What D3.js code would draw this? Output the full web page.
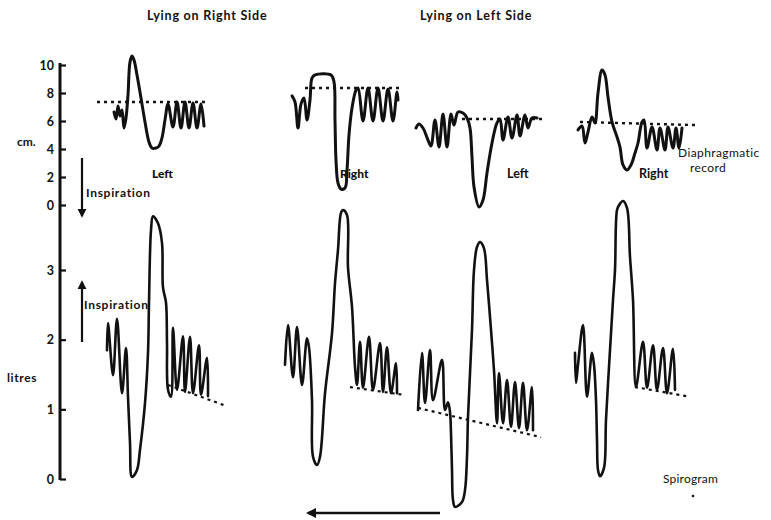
<!DOCTYPE html>
<html>
<head>
<meta charset="utf-8">
<script src="https://cdn.jsdelivr.net/npm/d3@7"></script>
<style>
  html, body { margin: 0; padding: 0; background: #fff; }
  svg { display: block; }
  text { font-family: Lato, "Open Sans", sans-serif; fill: #111; }
</style>
</head>
<body>
<svg id="chart" width="771" height="520"></svg>
<script>
// Time along the record (chart units) and recorded value.
// Diaphragm traces are in cm, spirogram traces in litres.

// Lying on right side — left diaphragm
const diaphragmRightSideLeft = [
  [54,6.64],[56,6.14],[58,7.07],[60,6.36],[62,6.79],[64,5.50],[66,6.21],[68,7.86],
  [70,10.21],[72,10.64],[74,10.36],[77,9.29],[81,7.64],[85,5.93],[89,4.50],[92,4.07],
  [96,4.07],[99,4.21],[102,4.79],[105,6.07],[108,7.21],[113,5.57],[117,7.36],[121,5.50],
  [125,7.36],[129,5.50],[133,7.29],[137,5.50],[141,7.21],[144,5.64]
];
const diaphragmRightSideLeftBase = [[37,7.36],[145,7.36]];

// Lying on right side — right diaphragm
const diaphragmRightSideRight = [
  [232,7.79],[235,7.36],[238,5.50],[241,7.21],[244,7.64],[247,6.07],[250,7.50],[252,9.07],
  [255,9.29],[271,9.29],[274,8.79],[275,6.07],[276,3.21],[278,1.57],[281,1.14],[285,1.21],
  [287,2.50],[289,5.00],[292,6.93],[296,8.21],[298,8.36],[303,6.00],[308,8.36],[313,6.00],
  [318,8.36],[323,6.00],[328,8.29],[333,6.00],[337,8.07],[338,7.50]
];
const diaphragmRightSideRightBase = [[245,8.36],[343,8.36]];

// Lying on left side — left diaphragm
const diaphragmLeftSideLeft = [
  [356,5.50],[359,5.79],[363,5.50],[368,4.64],[371,4.21],[375,6.07],[379,4.14],[383,6.50],
  [387,4.14],[391,6.50],[394,5.71],[398,6.64],[403,6.57],[407,6.21],[410,5.50],[412,3.43],
  [414,1.29],[419,-0.14],[423,0.36],[427,2.29],[432,4.43],[437,5.86],[440,6.14],[443,4.64],
  [448,6.29],[452,4.79],[457,6.43],[460,4.93],[465,6.43],[468,5.50],[472,6.21],[477,6.21]
];
const diaphragmLeftSideLeftBase = [[402,6.14],[485,6.14]];

// Lying on left side — right diaphragm
const diaphragmLeftSideRight = [
  [518,5.36],[522,5.64],[525,4.43],[528,5.21],[532,6.29],[535,5.86],[538,8.00],[542,9.64],
  [545,9.29],[548,7.71],[552,5.93],[557,4.86],[560,4.14],[563,2.86],[567,2.50],[571,2.86],
  [575,3.71],[578,4.43],[582,5.93],[584,6.07],[587,4.07],[592,5.57],[597,3.93],[600,5.50],
  [605,3.93],[608,5.57],[613,4.07],[616,5.50],[619,4.07],[622,5.50]
];
const diaphragmLeftSideRightBase = [[520,5.93],[635,5.71]];

// Spirograms (litres)
const spiroRightSideLeft = [
  [47,1.85],[48,2.24],[53,1.49],[57,2.30],[62,1.23],[66,1.88],[68,1.18],[70,0.52],
  [72,0.03],[77,0.13],[80,0.42],[85,1.09],[88,1.81],[89,2.53],[91,3.57],[93,3.77],
  [98,3.67],[102,3.39],[103,2.75],[106,2.53],[107,1.95],[108,1.28],[111,1.18],[113,2.17],
  [117,1.28],[123,2.05],[125,1.25],[130,2.04],[133,1.23],[139,1.92],[141,1.21],[147,1.74],
  [148,1.19]
];
const spiroRightSideLeftBase = [[108,1.35],[166,1.05]];

const spiroRightSideRight = [
  [225,1.64],[228,2.21],[233,1.46],[237,2.18],[242,1.35],[247,2.02],[249,1.89],[252,1.13],
  [253,0.32],[257,0.20],[260,0.32],[265,1.23],[272,2.09],[275,2.81],[278,3.29],[281,3.82],
  [283,3.86],[287,3.79],[288,3.04],[292,2.47],[295,1.61],[297,1.35],[300,1.97],[303,1.31],
  [309,2.04],[313,1.28],[320,1.95],[323,1.25],[327,1.89],[331,1.23],[336,1.66],[337,1.23]
];
const spiroRightSideRightBase = [[290,1.32],[343,1.21]];

const spiroLeftSideLeft = [
  [358,0.99],[362,1.81],[365,1.09],[370,1.85],[373,1.13],[382,1.71],[385,0.99],[388,1.10],
  [390,0.96],[391,0.66],[392,0.13],[393,-0.30],[395,-0.40],[402,-0.33],[405,-0.16],[407,0.32],
  [408,0.89],[412,2.14],[414,3.00],[417,3.33],[420,3.40],[424,3.31],[427,2.86],[431,2.14],
  [434,1.56],[437,0.80],[439,1.52],[443,0.80],[447,1.42],[451,0.75],[455,1.39],[459,0.73],
  [463,1.38],[467,0.70],[472,1.32],[473,0.70]
];
const spiroLeftSideLeftBase = [[358,1.02],[481,0.60]];

const spiroLeftSideRight = [
  [515,1.81],[516,1.38],[518,1.64],[523,2.21],[527,1.18],[532,1.81],[534,1.64],[536,1.13],
  [537,0.56],[538,0.13],[540,0.04],[544,0.16],[546,0.85],[550,1.85],[553,2.57],[555,3.00],
  [557,3.86],[559,3.93],[563,3.99],[567,3.89],[570,3.19],[573,2.57],[576,1.32],[583,1.97],
  [587,1.31],[593,1.92],[597,1.28],[603,1.88],[607,1.23],[613,1.87],[615,1.28]
];
const spiroLeftSideRightBase = [[575,1.32],[630,1.18]];

const cmTicks = [0, 2, 4, 6, 8, 10];
const litreTicks = [0, 1, 2, 3];

const svg = d3.select("#chart");

const x = d3.scaleLinear().domain([0, 700]).range([60, 760]);
const yCm = d3.scaleLinear().domain([0, 10]).range([205, 65]);
const yL = d3.scaleLinear().domain([0, 3]).range([479, 270]);

// arrowhead
svg.append("defs").append("marker")
  .attr("id", "head")
  .attr("viewBox", "0 0 10 10")
  .attr("refX", 8).attr("refY", 5)
  .attr("markerWidth", 4.2).attr("markerHeight", 4.2)
  .attr("markerUnits", "strokeWidth")
  .attr("orient", "auto")
  .append("path").attr("d", "M0,0 L10,5 L0,10 Z").attr("fill", "#111");

// vertical spine shared by both scales
svg.append("line")
  .attr("x1", x(0)).attr("x2", x(0))
  .attr("y1", yCm(10) - 2).attr("y2", yL(0) + 1)
  .attr("stroke", "#111").attr("stroke-width", 3);

function styleAxis(g) {
  g.select(".domain").remove();
  g.selectAll(".tick line").attr("stroke", "#111").attr("stroke-width", 2.2);
  g.selectAll(".tick text")
    .attr("font-family", "Lato, sans-serif")
    .attr("font-weight", 700).attr("font-size", 12.5).attr("fill", "#111");
}

svg.append("g").attr("transform", `translate(${x(0)},0)`)
  .call(d3.axisLeft(yCm).tickValues(cmTicks).tickFormat(d3.format("d"))
    .tickSizeInner(-6).tickSizeOuter(0).tickPadding(6))
  .call(styleAxis);
svg.append("g").attr("transform", `translate(${x(0)},0)`)
  .call(d3.axisLeft(yL).tickValues(litreTicks).tickFormat(d3.format("d"))
    .tickSizeInner(-6).tickSizeOuter(0).tickPadding(6))
  .call(styleAxis);

const lineCm = d3.line().x(d => x(d[0])).y(d => yCm(d[1])).curve(d3.curveCatmullRom.alpha(0.5));
const lineL = d3.line().x(d => x(d[0])).y(d => yL(d[1])).curve(d3.curveCatmullRom.alpha(0.5));
const straightCm = d3.line().x(d => x(d[0])).y(d => yCm(d[1]));
const straightL = d3.line().x(d => x(d[0])).y(d => yL(d[1]));

const diaphragms = [diaphragmRightSideLeft, diaphragmRightSideRight, diaphragmLeftSideLeft, diaphragmLeftSideRight];
const diaphragmBases = [diaphragmRightSideLeftBase, diaphragmRightSideRightBase, diaphragmLeftSideLeftBase, diaphragmLeftSideRightBase];
const spiros = [spiroRightSideLeft, spiroRightSideRight, spiroLeftSideLeft, spiroLeftSideRight];
const spiroBases = [spiroRightSideLeftBase, spiroRightSideRightBase, spiroLeftSideLeftBase, spiroLeftSideRightBase];

// resting levels (dotted)
svg.append("g").selectAll("path").data(diaphragmBases).join("path")
  .attr("d", straightCm).attr("fill", "none").attr("stroke", "#111")
  .attr("stroke-width", 2.4).attr("stroke-dasharray", "3,4");
svg.append("g").selectAll("path").data(spiroBases).join("path")
  .attr("d", straightL).attr("fill", "none").attr("stroke", "#111")
  .attr("stroke-width", 2.2).attr("stroke-dasharray", "3,4");

// traces
svg.append("g").selectAll("path").data(diaphragms).join("path")
  .attr("d", lineCm).attr("fill", "none").attr("stroke", "#111")
  .attr("stroke-width", 3).attr("stroke-linejoin", "round").attr("stroke-linecap", "round");
svg.append("g").selectAll("path").data(spiros).join("path")
  .attr("d", lineL).attr("fill", "none").attr("stroke", "#111")
  .attr("stroke-width", 2.6).attr("stroke-linejoin", "round").attr("stroke-linecap", "round");

// direction arrows
function arrow(x1, y1, x2, y2, w) {
  svg.append("line").attr("x1", x1).attr("y1", y1).attr("x2", x2).attr("y2", y2)
    .attr("stroke", "#111").attr("stroke-width", w).attr("marker-end", "url(#head)");
}
arrow(82, 158, 82, 216, 2.2);
arrow(82, 342, 82, 282, 2.2);
arrow(440, 513, 308, 513, 2.4);

// text
function label(txt, tx, ty, opts = {}) {
  svg.append("text").attr("x", tx).attr("y", ty)
    .attr("font-size", opts.size || 12)
    .attr("font-weight", opts.weight || 700)
    .attr("text-anchor", opts.anchor || "start")
    .attr("letter-spacing", opts.ls || 0)
    .text(txt);
}
label("Lying on Right Side", 147, 20, {size: 12.5, ls: 0.8});
label("Lying on Left Side", 420, 20, {size: 12.5, ls: 0.8});
label("cm.", 17, 146, {size: 12});
label("litres", 7, 382, {size: 12, ls: 0.6});
label("Inspiration", 86, 197, {size: 12, ls: 0.7});
label("Inspiration", 84, 309, {size: 12, ls: 0.7});
label("Left", x(92), yCm(1.9), {size: 12, weight: 900});
label("Right", x(280), yCm(1.9), {size: 12, weight: 900});
label("Left", x(447), yCm(1.9), {size: 12.5, weight: 700});
label("Right", x(579), yCm(1.9), {size: 12.5, weight: 700});
label("Diaphragmatic", 678, 157, {size: 12, weight: 400, ls: 0.4});
label("record", 690, 172, {size: 12, weight: 400, ls: 0.4});
label("Spirogram", 663, 483, {size: 12, weight: 400, ls: 0.2});
svg.append("circle").attr("cx", 693).attr("cy", 496).attr("r", 1.3).attr("fill", "#111");
</script>
</body>
</html>
